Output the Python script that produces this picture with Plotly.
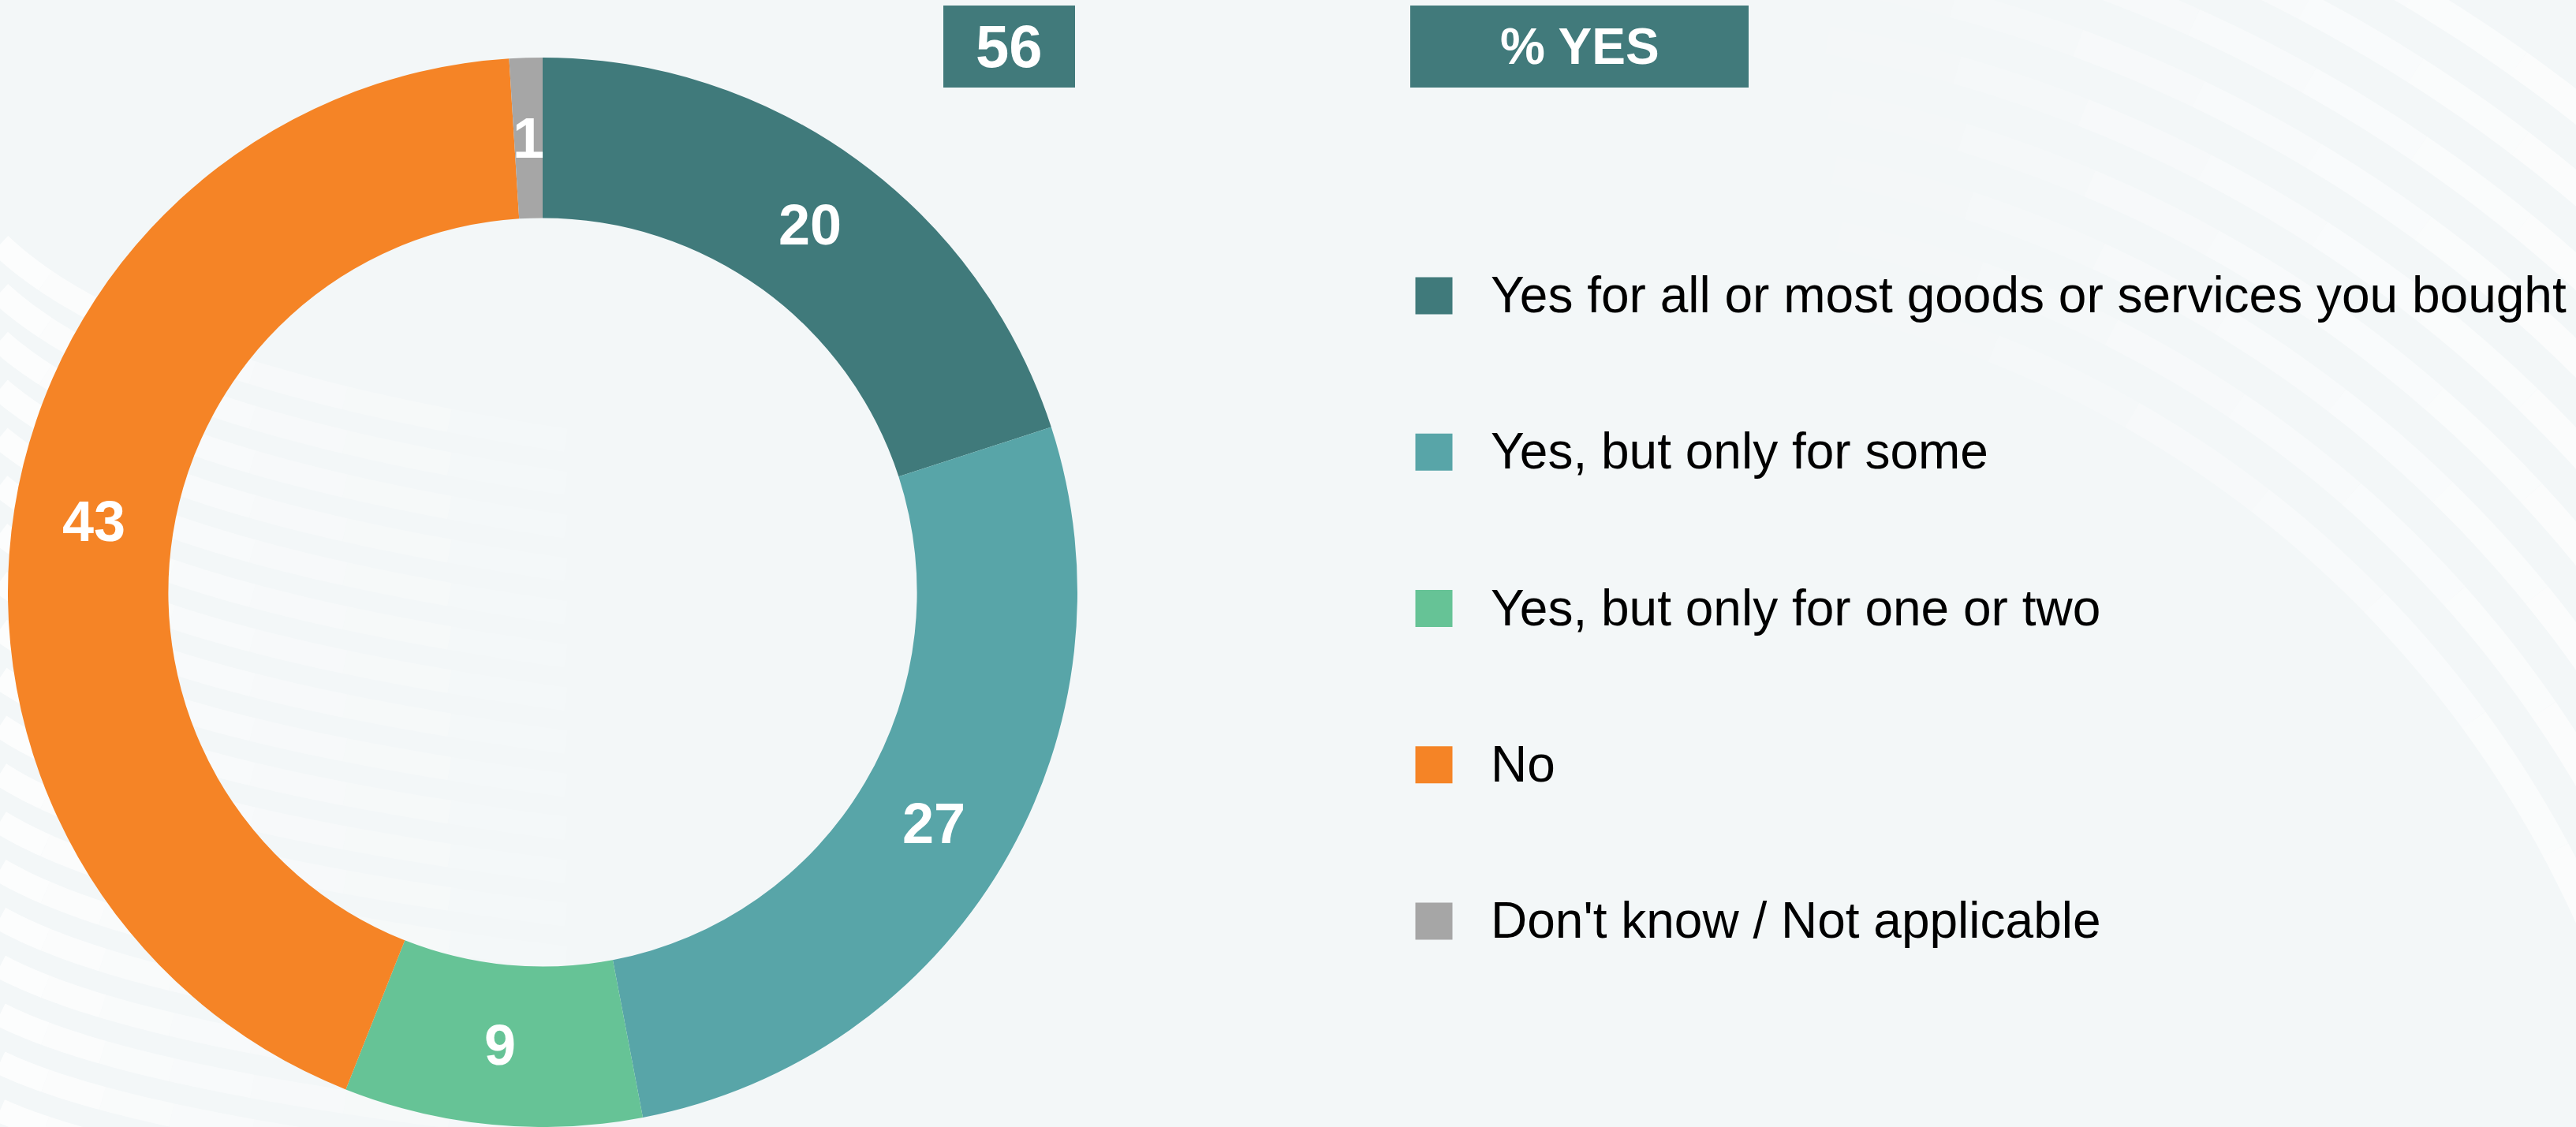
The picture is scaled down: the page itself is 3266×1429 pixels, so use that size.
import numpy as np
import plotly.graph_objects as go

# ---- data ----
labels = [
    "Yes for all or most goods or services you bought",
    "Yes, but only for some",
    "Yes, but only for one or two",
    "No",
    "Don't know / Not applicable",
]
values = [20, 27, 9, 43, 1]
colors = ["#407a7b", "#58a5a8", "#66c396", "#f58426", "#a6a6a6"]
yes_share = sum(values[:3])          # headline figure in the first box
yes_title = "% YES"

W, H = 3266, 1429
BG = "#f3f7f8"
FONT = "Liberation Sans, Arial, sans-serif"

fig = go.Figure()

# ---- donut ----
cx, cy, r = 688, 751, 678
hole = 0.70
fig.add_trace(go.Pie(
    labels=labels,
    values=values,
    marker=dict(colors=colors, line=dict(width=0)),
    hole=hole,
    sort=False,
    direction="clockwise",
    rotation=0,
    textinfo="none",
    domain=dict(x=[(cx - r) / W, (cx + r) / W], y=[(H - cy - r) / H, (H - cy + r) / H]),
    showlegend=False,
    hoverinfo="label+value",
))

# value labels centred in the ring at each slice's mid-angle
vals = np.array(values, dtype=float)
mid = (np.cumsum(vals) - vals / 2) / vals.sum() * 2 * np.pi
r_mid = r * (1 + hole) / 2
annotations = []
for v, a in zip(values, mid):
    px = cx + r_mid * np.sin(a)
    py = cy - r_mid * np.cos(a)
    annotations.append(dict(
        text=f"<b>{v}</b>", x=px / W, y=1 - py / H, xref="paper", yref="paper",
        showarrow=False, xanchor="center", yanchor="middle",
        font=dict(family=FONT, size=72, color="white")))

# ---- custom legend: square swatches + labels ----
rows = list(range(len(labels)))
row_top, row_step = 375, 198.25
y_top = -row_top / row_step
y_bot = (H - row_top) / row_step
text_dy = 5 / row_step

fig.add_trace(go.Scatter(
    x=[1818] * len(labels), y=rows, mode="markers",
    marker=dict(symbol="square", size=47, color=colors, line=dict(width=0)),
    showlegend=False, hoverinfo="skip",
))
fig.add_trace(go.Scatter(
    x=[1890] * len(labels), y=[i + text_dy for i in rows], mode="text", text=labels,
    textposition="middle right",
    textfont=dict(family=FONT, size=64, color="#000000"),
    showlegend=False, hoverinfo="skip",
))

# ---- decorative background waves ----
shapes = []


def band(points, width, ramp):
    """Draw a polyline as consecutive chunks whose opacities follow `ramp`."""
    n = len(ramp)
    idx = np.linspace(0, len(points) - 1, n + 1).astype(int)
    for k in range(n):
        if ramp[k] <= 0:
            continue
        seg = points[idx[k]: idx[k + 1] + 1]
        d = "M " + " L ".join(f"{x / W:.5f},{1 - y / H:.5f}" for x, y in seg)
        shapes.append(dict(type="path", path=d, xref="paper", yref="paper",
                           line=dict(color="white", width=width),
                           opacity=ramp[k], layer="below"))


t = np.linspace(0, 1, 81)[:, None]


def quad(p0, p1, p2):
    p0, p1, p2 = map(np.array, (p0, p1, p2))
    return (1 - t) ** 2 * p0 + 2 * (1 - t) * t * p1 + t ** 2 * p2


# left fan: steep at the edge, flattening towards the right
n_left = 19
for i in range(n_left):
    f = i / (n_left - 1)
    y0 = 310 + 61 * i
    ctrl_dy = 190 - 100 * f
    end_dy = 270 - 120 * f
    pts = quad((0, y0), (200, y0 + ctrl_dy), (880, y0 + end_dy))
    band(pts, 30, [0.8, 0.7, 0.55, 0.45, 0.35, 0.25, 0.15, 0.06])

# right arcs: concentric circles centred below-left of the legend
acx, acy = 2015, 1734
for k in range(9):
    rr = 1390 + 80 * k
    th0 = np.arcsin(min((2150 - acx) / rr, 1))
    th1 = np.arcsin(min((3320 - acx) / rr, 1))
    th = np.linspace(th0, th1, 81)
    pts = np.column_stack([acx + rr * np.sin(th), acy - rr * np.cos(th)])
    band(pts, 36, [0.0, 0.1, 0.22, 0.35, 0.48, 0.58, 0.65, 0.68])

# ---- header boxes ----
box_color = "#417a7b"
shapes.append(dict(type="rect", xref="paper", yref="paper",
                   x0=1196 / W, x1=1363 / W, y0=1 - 111 / H, y1=1 - 7 / H,
                   fillcolor=box_color, line=dict(width=0), layer="above"))
shapes.append(dict(type="rect", xref="paper", yref="paper",
                   x0=1788 / W, x1=2217 / W, y0=1 - 111 / H, y1=1 - 7 / H,
                   fillcolor=box_color, line=dict(width=0), layer="above"))

annotations += [
    dict(text=f"<b>{yes_share}</b>", x=1279.5 / W, y=1 - 59 / H, xref="paper", yref="paper",
         showarrow=False, xanchor="center", yanchor="middle",
         font=dict(family=FONT, size=76, color="white")),
    dict(text=f"<b>{yes_title}</b>", x=2002.5 / W, y=1 - 59 / H, xref="paper", yref="paper",
         showarrow=False, xanchor="center", yanchor="middle",
         font=dict(family=FONT, size=64, color="white")),
]

fig.update_layout(
    width=W, height=H,
    margin=dict(l=0, r=0, t=0, b=0),
    paper_bgcolor=BG, plot_bgcolor="rgba(0,0,0,0)",
    xaxis=dict(range=[0, W], domain=[0, 1], visible=False, fixedrange=True),
    yaxis=dict(range=[y_bot, y_top], domain=[0, 1], visible=False, fixedrange=True,
               autorange=False),
    shapes=shapes,
    annotations=annotations,
    showlegend=False,
)

fig.write_html("out.html")
